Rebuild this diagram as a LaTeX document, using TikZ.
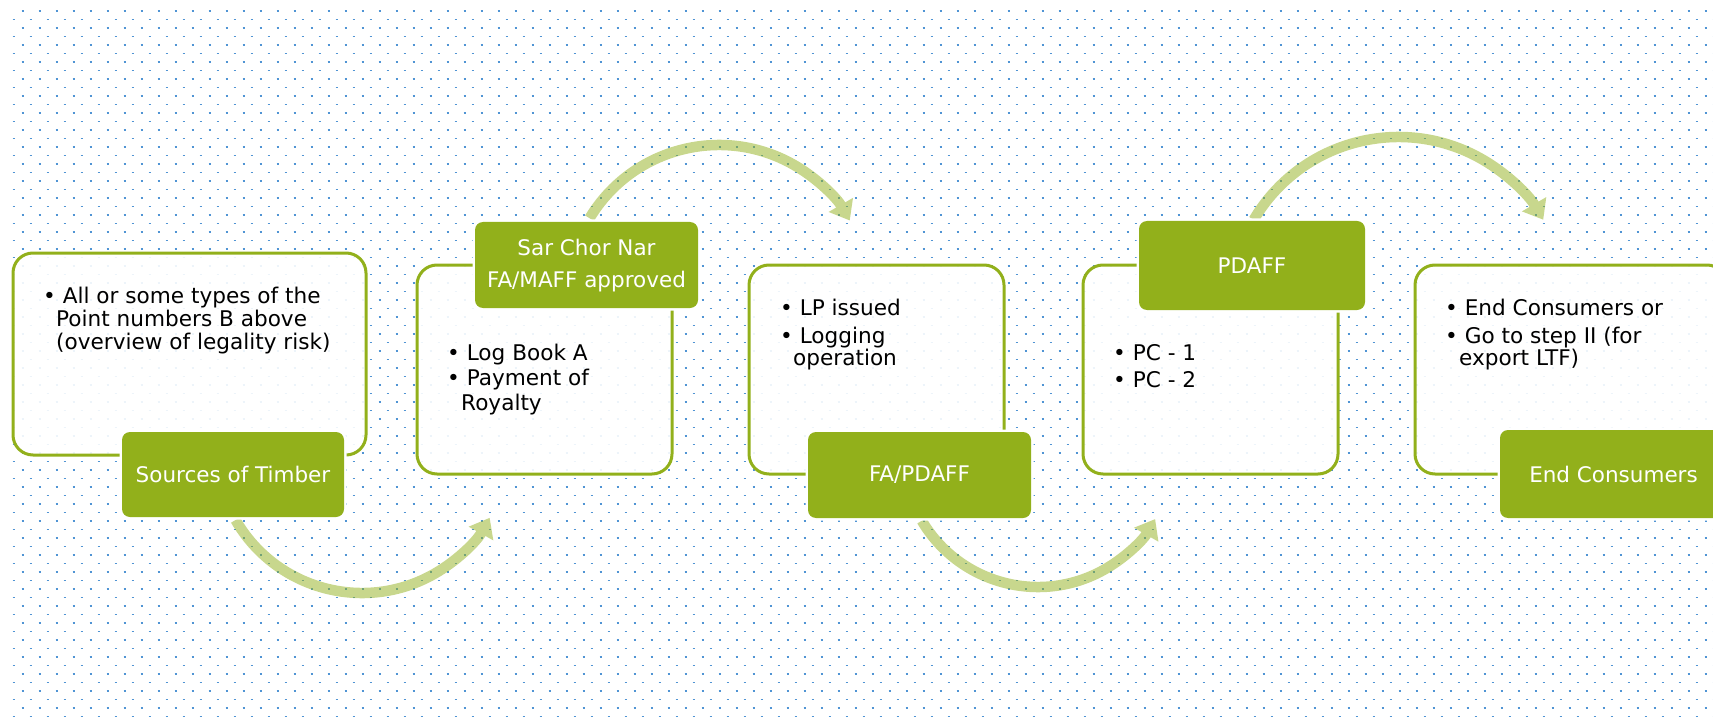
\documentclass[tikz,border=0pt]{standalone}
\usepackage{fontspec}
\setmainfont{DejaVu Sans}
\usetikzlibrary{arrows.meta}
\definecolor{leaf}{RGB}{146,176,27}
\definecolor{dotblue}{RGB}{80,148,212}
\newcommand{\ind}{\hspace*{13pt}}
\begin{document}
\begin{tikzpicture}[x=1pt,y=-1pt,
  panel/.style={draw=leaf, line width=3pt, fill=white, fill opacity=0.9,
    rounded corners=20pt, inner sep=0pt, outer sep=0pt},
  tag/.style={preaction={draw=white, line width=5pt}, fill=leaf, text=white,
    rounded corners=8pt, inner sep=0pt, minimum width=224pt,
    font=\fontsize{21.5}{32}\selectfont},
  body/.style={anchor=base west, inner sep=0pt, text=black,
    font=\fontsize{21.6}{23}\selectfont},
  flow/.style={draw=leaf, line width=10.5pt, -{Triangle[width=27pt,length=18pt]}}]
\useasboundingbox (0,0) rectangle (1713,722);
\clip (0,0) rectangle (1713,722);
% dotted background
\foreach \k in {0,...,42}{
  \draw[dotblue, line width=2.7pt, dash pattern=on 2.7pt off 14.3pt] (21.65,{11+17*\k}) -- (1713,{11+17*\k});
  \draw[dotblue, line width=1.5pt, dash pattern=on 2.8pt off 14.2pt] (12.6,{19.5+17*\k}) -- (1713,{19.5+17*\k});
}
% panels
\node[panel, minimum width=353pt, minimum height=202pt] (box1) at (189.5,354) {};
\node[panel, minimum width=255pt, minimum height=209pt] (box2) at (544.5,369.5) {};
\node[panel, minimum width=255pt, minimum height=209pt] (box3) at (876.5,369.5) {};
\node[panel, minimum width=255pt, minimum height=209pt] (box4) at (1210.5,369.5) {};
\node[panel, minimum width=312pt, minimum height=209pt] (box5) at (1571,369.5) {};
% arc arrows
\coordinate (c1) at (362,447);
\coordinate (c2) at (719,296);
\coordinate (c3) at (1038,452);
\coordinate (c4) at (1398.5,305);
\begin{scope}[transparency group, opacity=0.5]
  \draw[flow] (c1) ++(150:146) arc[start angle=150, end angle=29, radius=146];
  \draw[flow] (c2) ++(211:151) arc[start angle=211, end angle=330, radius=151];
  \draw[flow] (c3) ++(149.4:135) arc[start angle=149.4, end angle=29.8, radius=135];
  \draw[flow] (c4) ++(210.5:168) arc[start angle=210.5, end angle=329.5, radius=168];
\end{scope}
% labels
\node[tag, minimum width=222pt, minimum height=85pt] (lab1) at (233,474.5) {Sources of Timber};
\node[tag, minimum width=223pt, minimum height=86pt] (lab2) at (586.5,265)
  {\begin{tabular}{@{}c@{}}Sar Chor Nar\\FA/MAFF approved\end{tabular}};
\node[tag, minimum width=223pt, minimum height=86pt] (lab3) at (919.5,475) {FA/PDAFF};
\node[tag, minimum width=226pt, minimum height=89pt] (lab4) at (1252,265.5) {PDAFF};
\node[tag, minimum width=227pt, minimum height=88pt] (lab5) at (1613.5,474) {End Consumers};
% body texts
\node[body] (t1) at (43,303) {\begin{tabular}[t]{@{}l@{}}•\ All or some types of the\\\ind Point numbers B above\\\ind (overview of legality risk)\end{tabular}};
\node[body] (t2) at (447,360) {\begin{tabular}[t]{@{}l@{}}•\ Log Book A\\[2pt]•\ Payment of\\[2pt]\hspace*{14pt}Royalty\end{tabular}};
\node[body] (t3) at (780,315) {\begin{tabular}[t]{@{}l@{}}•\ LP issued\\[5pt]•\ Logging\\[-1pt]\ind operation\end{tabular}};
\node[body] (t4) at (1113,360) {\begin{tabular}[t]{@{}l@{}}•\ PC - 1\\[4pt]•\ PC - 2\end{tabular}};
\node[body] (t5) at (1445,315) {\begin{tabular}[t]{@{}l@{}}•\ End Consumers or\\[5pt]•\ Go to step II (for\\[-1pt]\hspace*{14pt}export LTF)\end{tabular}};
\end{tikzpicture}
\end{document}
